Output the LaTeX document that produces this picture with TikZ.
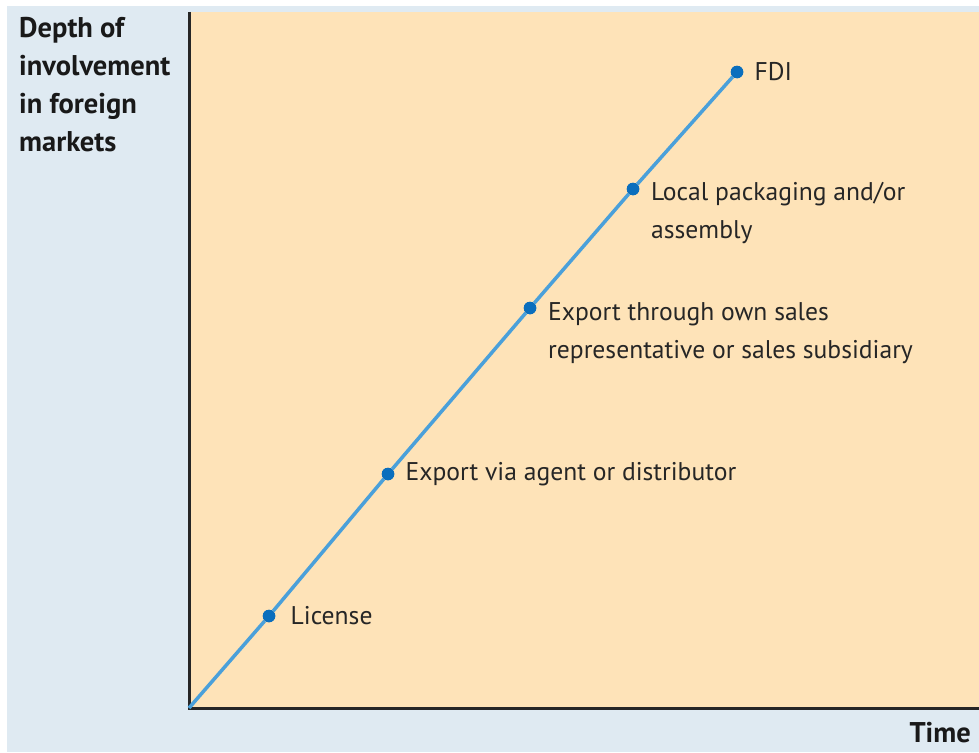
\documentclass[tikz,border=0pt]{standalone}
\usepackage{fontspec}
\setmainfont{PT Sans}
\usetikzlibrary{positioning}
\definecolor{bgblue}{HTML}{DFEAF2}
\definecolor{plotorange}{HTML}{FEE3B8}
\definecolor{lineblue}{HTML}{4AA0DA}
\definecolor{dotblue}{HTML}{0A6EBD}
\tikzset{
  stage/.style={font={\fontsize{25.6}{38}\selectfont}, align=left, anchor=west, inner sep=0pt, text=black!85},
  axislabel/.style={font={\fontsize{28.5}{38}\selectfont\bfseries}, inner sep=0pt, text=black!90},
  stagedot/.style={circle, fill=dotblue, inner sep=0pt, minimum size=12.5pt},
}
\begin{document}
\begin{tikzpicture}[x=1pt,y=-1pt]
    \useasboundingbox (0,0) rectangle (979,752);
    \fill[white] (0,0) rectangle (979,752);
    \fill[bgblue] (7,6) rectangle (979,752);
    \fill[plotorange] (189,12) rectangle (979,708);
    \draw[line width=3pt, black!85] (189,12) -- (189,708) -- (979,708);
    % axes labels
    \node[axislabel, align=left, anchor=north west] (depth) at (19,17) {Depth of\\involvement\\in foreign\\markets};
    \node[axislabel, anchor=base east] (time) at (971,742) {Time};
    % the line and its stages
    \coordinate (origin) at (189,708);
    \node[stagedot] (fdi) at (737,72) {};
    \node[stagedot] (local) at (633,189) {};
    \node[stagedot] (own) at (530,308) {};
    \node[stagedot] (agent) at (388,474) {};
    \node[stagedot] (license) at (269,616) {};
    \draw[line width=3.5pt, lineblue] (origin) -- (license) -- (agent) -- (own) -- (local) -- (fdi);
    \foreach \n in {fdi,local,own,agent,license} \node[stagedot] at (\n) {};
    \node[stage, right=11pt of fdi] (fdilabel) {FDI};
    \node[stage, anchor=north west] (locallabel) at (651,182) {Local packaging and/or\\assembly};
    \node[stage, anchor=north west] (ownlabel) at (548,302) {Export through own sales\\representative or sales subsidiary};
    \node[stage, right=11pt of agent] (agentlabel) {Export via agent or distributor};
    \node[stage, right=15pt of license] (licenselabel) {License};
\end{tikzpicture}
\end{document}
